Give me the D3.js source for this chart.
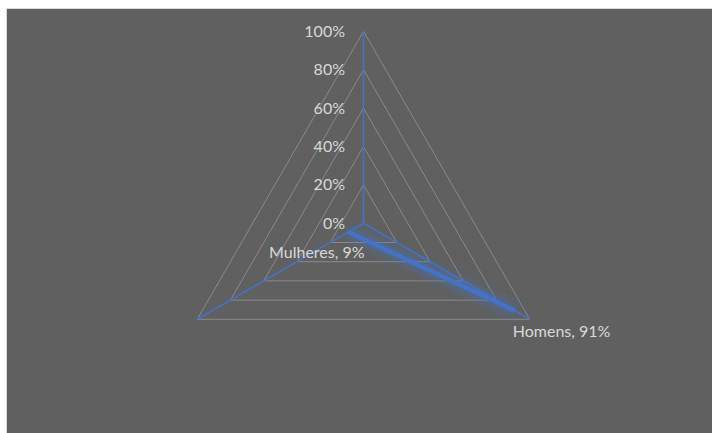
<!DOCTYPE html>
<html lang="pt">
  <head>
    <meta charset="UTF-8" />
    <title>Radar</title>
    <style>
      html, body { margin: 0; padding: 0; background: #ffffff; }
      svg { display: block; }
    </style>
  </head>
  <body>
    <div id="chart"></div>

    <script src="https://d3js.org/d3.v7.min.js"></script>
    <script>
      // data
      const categories = ["", "Homens", "Mulheres"];
      const values = [null, 0.91, 0.09];
      const tickValues = [0, 0.2, 0.4, 0.6, 0.8, 1];
      const tickLabels = ["0%", "20%", "40%", "60%", "80%", "100%"];

      const width = 712;
      const height = 433;
      const cx = 363.5, cy = 223.3;
      const radius = 192;

      const blue = "#4472c4";
      const gridColor = "#8a8a8a";
      const textColor = "#d9d9d9";
      const font = "Lato, 'Open Sans', sans-serif";

      const svg = d3.select("#chart").append("svg")
          .attr("width", width)
          .attr("height", height)
          .attr("viewBox", [0, 0, width, height]);

      // background panel
      svg.append("rect")
          .attr("x", 6.5).attr("y", 8.5)
          .attr("width", width).attr("height", height)
          .attr("fill", "#5f605f")
          .attr("stroke", "#d9d9d9");

      svg.append("defs").append("filter")
          .attr("id", "glow")
          .attr("x", "-20%").attr("y", "-20%")
          .attr("width", "140%").attr("height", "140%")
        .append("feGaussianBlur")
          .attr("stdDeviation", 4);

      const r = d3.scaleLinear([0, 1], [0, radius]);
      const angle = d3.scalePoint(d3.range(categories.length + 1), [0, 2 * Math.PI]);

      const g = svg.append("g").attr("transform", `translate(${cx},${cy})`);

      // grid triangles
      g.append("g")
        .selectAll("path")
        .data(tickValues.filter(t => t > 0))
        .join("path")
          .attr("d", t => d3.lineRadial()
              .angle(i => angle(i))
              .radius(r(t))
              .curve(d3.curveLinearClosed)(d3.range(categories.length)))
          .attr("fill", "none")
          .attr("stroke", gridColor)
          .attr("stroke-width", 1);

      // spokes
      g.append("g")
        .selectAll("line")
        .data(d3.range(categories.length))
        .join("line")
          .attr("x1", 0).attr("y1", 0)
          .attr("x2", i => r(1) * Math.sin(angle(i)))
          .attr("y2", i => -r(1) * Math.cos(angle(i)))
          .attr("stroke", blue)
          .attr("stroke-width", 1.6);

      // value axis labels
      g.append("g")
        .selectAll("text")
        .data(tickValues)
        .join("text")
          .attr("x", -18.5)
          .attr("y", t => -r(t) + 5.5)
          .attr("text-anchor", "end")
          .attr("font-family", font)
          .attr("font-size", 16)
          .attr("fill", textColor)
          .text((t, i) => tickLabels[i]);

      // series
      const series = values.map((v, i) => ({ name: categories[i], value: v, i }));
      const seriesLine = d3.lineRadial()
          .defined(d => d.value != null)
          .angle(d => angle(d.i))
          .radius(d => r(d.value));

      g.append("path")
          .attr("d", seriesLine(series))
          .attr("fill", "none")
          .attr("stroke", blue)
          .attr("stroke-width", 10)
          .attr("stroke-opacity", 0.6)
          .attr("filter", "url(#glow)");

      g.append("path")
          .attr("d", seriesLine(series))
          .attr("fill", "none")
          .attr("stroke", blue)
          .attr("stroke-width", 4.5);

      // data labels
      const labelOffset = { Homens: [-2, 26, "start"], Mulheres: [16, 26, "end"] };
      g.append("g")
        .selectAll("text")
        .data(series.filter(d => d.value != null))
        .join("text")
          .attr("x", d => r(d.value) * Math.sin(angle(d.i)) + labelOffset[d.name][0])
          .attr("y", d => -r(d.value) * Math.cos(angle(d.i)) + labelOffset[d.name][1])
          .attr("text-anchor", d => labelOffset[d.name][2])
          .attr("font-family", font)
          .attr("font-size", 16)
          .attr("fill", textColor)
          .text(d => `${d.name}, ${Math.round(d.value * 100)}%`);
    </script>
  </body>
</html>
